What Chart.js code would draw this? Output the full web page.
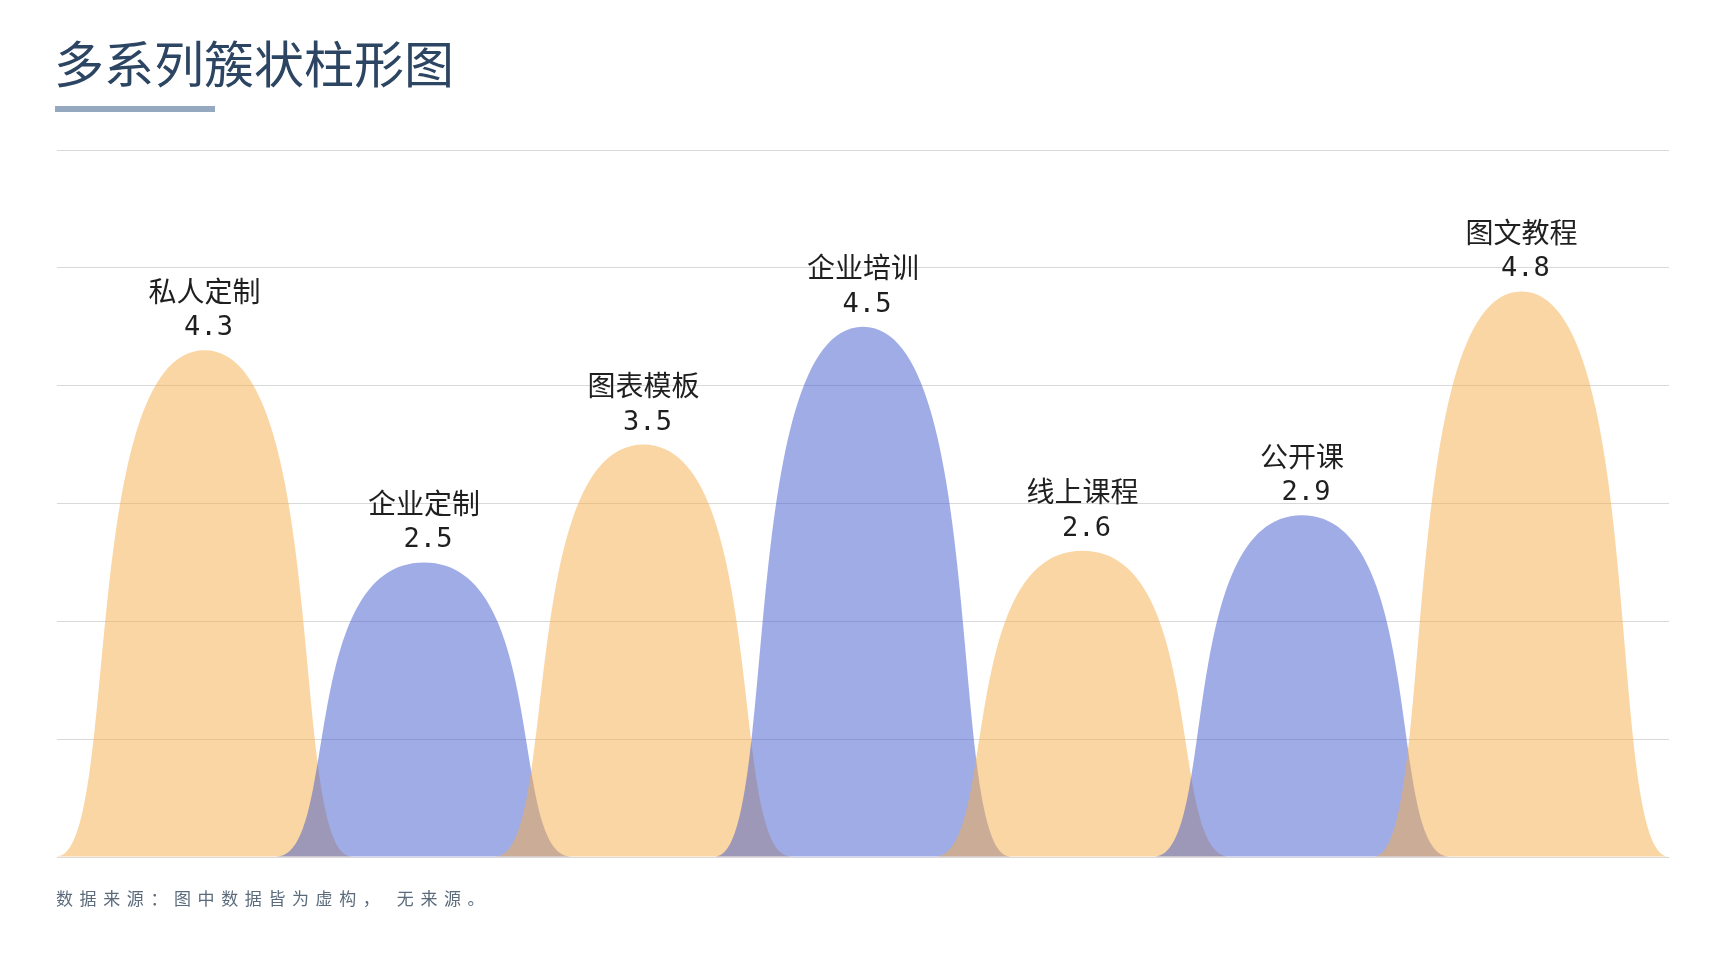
<!DOCTYPE html>
<html lang="zh">
<head>
<meta charset="utf-8">
<title>多系列簇状柱形图</title>
<script src="https://cdn.jsdelivr.net/npm/chart.js@4"></script>
<style>
  html, body { margin: 0; padding: 0; background: #fff; }
  body { width: 1728px; height: 972px; position: relative; overflow: hidden; font-family: "Noto Sans CJK SC", sans-serif; }
  #titulo { position: absolute; left: 54px; top: 36px; font-size: 50px; line-height: 1; color: #2c4562; white-space: nowrap; }
  #linea { position: absolute; left: 55px; top: 106px; width: 160px; height: 6px; background: #94a9bf; }
  #fuente { position: absolute; left: 56px; top: 889px; font-size: 17px; line-height: 1; letter-spacing: 6.6px; color: #5b6b7b; white-space: nowrap; }
  #grafico { position: absolute; left: 0; top: 0; }
</style>
</head>
<body>
<div id="titulo">多系列簇状柱形图</div>
<div id="linea"></div>
<canvas id="grafico" width="1728" height="972"></canvas>
<div id="fuente">数据来源：图中数据皆为虚构， 无来源。</div>

<script>
const categorias = ["私人定制", "企业定制", "图表模板", "企业培训", "线上课程", "公开课", "图文教程"];
const valores = [4.3, 2.5, 3.5, 4.5, 2.6, 2.9, 4.8];
const yMin = 0;
const yMax = 6;
const yPaso = 1;

// colores alternos naranja / azul (semi transparentes)
const NARANJA = "rgba(245, 173, 73, 0.5)";
const AZUL = "rgba(65, 89, 205, 0.5)";
const ANCHO = 0.672; // media base de cada "montaña" en unidades de categoría

// dibuja cada barra como una montaña con curvas
const montanas = {
  id: "montanas",
  beforeDatasetDraw(chart, args) {
    const ctx = chart.ctx;
    const xs = chart.scales.x;
    const ds = chart.data.datasets[args.index];
    ctx.save();
    args.meta.data.forEach((bar, i) => {
      const cx = bar.x;
      const top = bar.y;
      const base = bar.base;
      const h = xs.getPixelForValue(i + ANCHO) - cx;
      ctx.beginPath();
      ctx.moveTo(cx - h, base);
      ctx.bezierCurveTo(cx - 0.57 * h, base, cx - 0.854 * h, top, cx, top);
      ctx.bezierCurveTo(cx + 0.854 * h, top, cx + 0.57 * h, base, cx + h, base);
      ctx.closePath();
      ctx.fillStyle = ds.backgroundColor[i];
      ctx.fill();
    });
    ctx.restore();
    return false;
  },
  afterDatasetsDraw(chart) {
    const ctx = chart.ctx;
    const meta = chart.getDatasetMeta(0);
    ctx.save();
    ctx.textAlign = "center";
    ctx.textBaseline = "middle";
    ctx.fillStyle = "#1f1f1f";
    meta.data.forEach((bar, i) => {
      ctx.font = '28px "Noto Sans CJK SC"';
      ctx.fillText(categorias[i], bar.x, bar.y - 59);
      ctx.font = '27px "DejaVu Sans Mono"';
      ctx.fillText(valores[i].toFixed(1), bar.x + 4, bar.y - 22);
    });
    ctx.restore();
  }
};

new Chart(document.getElementById("grafico"), {
  type: "bar",
  data: {
    datasets: [{
      label: "数值",
      data: valores.map((v, i) => ({ x: i, y: v })),
      backgroundColor: valores.map((v, i) => i % 2 === 0 ? NARANJA : AZUL)
    }]
  },
  options: {
    responsive: false,
    animation: false,
    devicePixelRatio: 1,
    layout: { padding: { left: 57, right: 59, top: 150, bottom: 115 } },
    plugins: {
      legend: { display: false },
      tooltip: { enabled: false }
    },
    scales: {
      x: {
        type: "linear",
        display: false,
        offset: false,
        grid: { offset: false },
        min: -ANCHO,
        max: categorias.length - 1 + ANCHO
      },
      y: {
        min: yMin,
        max: yMax,
        ticks: { display: false, stepSize: yPaso },
        border: { display: false },
        grid: { color: "#d9d9d9", lineWidth: 1, drawTicks: false }
      }
    }
  },
  plugins: [montanas]
});
</script>
</body>
</html>
